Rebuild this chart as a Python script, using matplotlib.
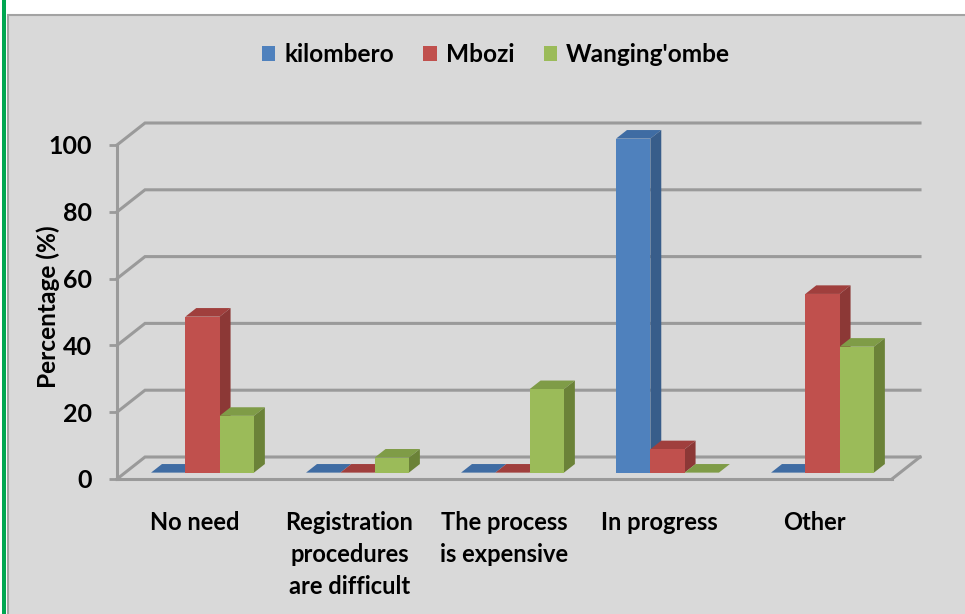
import matplotlib
matplotlib.use("Agg")
import matplotlib.pyplot as plt
from matplotlib.patches import Rectangle, Polygon

plt.rcParams['font.family'] = ['Lato', 'DejaVu Sans']

categories = ["No need", "Registration\nprocedures\nare difficult", "The process\nis expensive", "In progress", "Other"]
series_names = ["kilombero", "Mbozi", "Wanging'ombe"]
kilombero = [0, 0, 0, 100, 0]
mbozi = [46.7, 0, 0, 7, 53.5]
wangingombe = [17, 4.5, 25, 0, 37.7]
yticks = [0, 20, 40, 60, 80, 100]

front_colors = ["#4f81bd", "#c0504d", "#9bbb59"]
side_colors = ["#385d8a", "#8c3836", "#6b8238"]
top_colors = ["#3f6ca3", "#a03f3d", "#7f9c47"]
GRID = "#9a9a9a"

W, H = 965, 614
fig = plt.figure(figsize=(W / 100, H / 100), dpi=100, facecolor="white")

# Page furniture: panel behind the chart and the green rule on the left
fig.add_artist(Rectangle((8 / W, -0.01), (W - 8) / W + 0.01, (H - 15) / H + 0.01, transform=fig.transFigure,
                         facecolor="#d9d9d9", edgecolor="#a3a3a3", linewidth=1.5, zorder=-2))
fig.add_artist(Rectangle((2 / W, 0), 4 / W, 1, transform=fig.transFigure,
                         facecolor="#00a651", edgecolor="none", zorder=-2))

ax = fig.add_axes([117 / W, (H - 479) / H, 775 / W, 334 / H])
ax.patch.set_alpha(0)
ax.set_xlim(-0.5, 4.5)
ax.set_ylim(0, 100)

# Depth projection: one unit of depth moves a point right and up, in data units
DEPTH_X = 28 / 155
DEPTH_Y = 22 / 3.34


def project(x, y, z):
    return x + z * DEPTH_X, y + z * DEPTH_Y


# Back wall, side wall and floor lines
for v in yticks:
    p0 = (-0.5, v)
    p1 = project(-0.5, v, 1)
    p2 = project(4.5, v, 1)
    ax.plot([p0[0], p1[0], p2[0]], [p0[1], p1[1], p2[1]], color=GRID, lw=2.2,
            clip_on=False, zorder=1, solid_joinstyle="miter")
fr = project(4.5, 0, 1)
ax.plot([4.5, fr[0]], [0, fr[1]], color=GRID, lw=2.2, clip_on=False, zorder=1)

# Bars: front, side and top faces of each box, back to front and left to right
BAR_W = 34.3 / 155
Z0, Z1 = 0.29, 0.68
series = [kilombero, mbozi, wangingombe]
handles = []
for s, values in enumerate(series):
    for c, v in enumerate(values):
        x0 = c + (s - 1.5) * BAR_W + 8 / 155 - Z0 * DEPTH_X
        x1 = x0 + BAR_W
        fl = Z0 * DEPTH_Y
        a = project(x0, v, Z0)
        b = project(x1, v, Z0)
        d = project(x1, v, Z1)
        e = project(x0, v, Z1)
        base_r = project(x1, 0, Z0)
        base_d = project(x1, 0, Z1)
        z = 3 + c * 3 + s * 0.5
        ax.add_patch(Polygon([a, b, d, e], closed=True, facecolor=top_colors[s],
                             edgecolor="none", clip_on=False, zorder=z))
        if v > 0:
            ax.add_patch(Polygon([base_r, b, d, base_d], closed=True, facecolor=side_colors[s],
                                 edgecolor="none", clip_on=False, zorder=z))
        rect = ax.bar(project(x0, 0, Z0)[0], v, BAR_W, bottom=fl, align="edge",
                      color=front_colors[s], clip_on=False, zorder=z + 0.1,
                      label=series_names[s] if c == 0 else None)
        if c == 0:
            handles.append(rect[0])

for side in ("top", "right"):
    ax.spines[side].set_visible(False)
for side in ("left", "bottom"):
    ax.spines[side].set_color(GRID)
    ax.spines[side].set_linewidth(2.2)
    ax.spines[side].set_zorder(2)

ax.set_yticks(yticks)
ax.set_yticklabels([str(v) for v in yticks], fontsize=18, fontweight="bold", color="black")
ax.tick_params(axis="y", length=6, width=2, color=GRID, pad=12)
ax.set_xticks(range(len(categories)))
ax.set_xticklabels(categories, fontsize=17, fontweight="bold", color="black", linespacing=1.47)
ax.tick_params(axis="x", length=0, pad=23)
ax.set_ylabel("Percentage (%)", fontsize=17.6, fontweight="bold", color="black", labelpad=0)
ax.yaxis.set_label_coords((60 - 117) / 775, 0.515)

ax.legend(handles=handles, labels=series_names, loc="center", ncol=3, frameon=False,
          bbox_to_anchor=(496 / W, (H - 55) / H), bbox_transform=fig.transFigure,
          prop={"size": 17.6, "weight": "bold"}, handlelength=0.55, handleheight=0.55,
          handletextpad=0.37, columnspacing=1.2, labelcolor="black")

fig.savefig("out.png", dpi=100, facecolor=fig.get_facecolor())
